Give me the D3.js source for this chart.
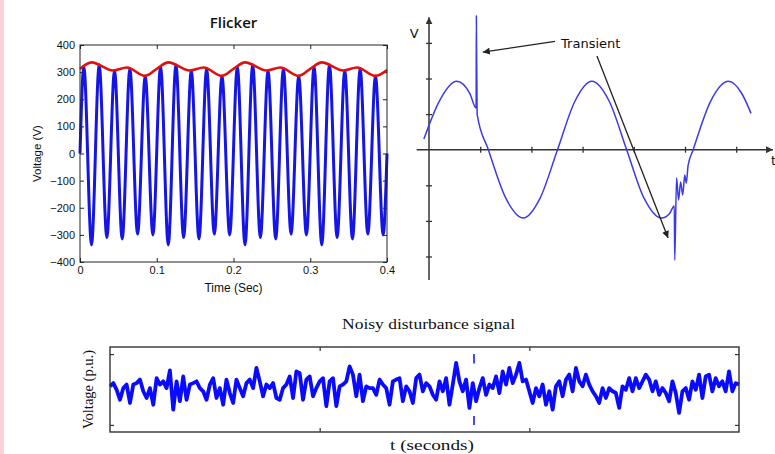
<!DOCTYPE html>
<html><head><meta charset="utf-8">
<script src="https://cdn.jsdelivr.net/npm/d3@7"></script>
<style>
body{margin:0;background:#fff;}
svg{display:block;}
</style></head><body>
<svg id="c" width="775" height="454"></svg>
<script>
// ---------------- Flicker panel data ----------------
const flickerXTicks = [0, 0.1, 0.2, 0.3, 0.4];
const flickerYTicks = [-400, -300, -200, -100, 0, 100, 200, 300, 400];
const waveTime = [0, 0.005, 0.015, 0.025, 0.035, 0.045, 0.055, 0.065, 0.075, 0.085, 0.095,
  0.105, 0.115, 0.125, 0.135, 0.145, 0.155, 0.165, 0.175, 0.185, 0.195,
  0.205, 0.215, 0.225, 0.235, 0.245, 0.255, 0.265, 0.275, 0.285, 0.295,
  0.305, 0.315, 0.325, 0.335, 0.345, 0.355, 0.365, 0.375, 0.385, 0.395, 0.4];
const waveVolt = [0, 320, -337, 327, -310, 306, -315, 312, -297, 286, -300,
  320, -337, 327, -310, 306, -315, 312, -297, 286, -300,
  320, -337, 327, -310, 306, -315, 312, -297, 286, -300,
  320, -337, 327, -310, 306, -315, 312, -297, 286, -300, 0];
const envTime = [0, 0.015, 0.043, 0.061, 0.085, 0.1, 0.115, 0.143, 0.161, 0.185,
  0.2, 0.215, 0.243, 0.261, 0.285, 0.3, 0.315, 0.343, 0.361, 0.385, 0.4];
const envVolt = [312, 336, 306, 317, 286, 312, 336, 306, 317, 286,
  312, 336, 306, 317, 286, 312, 336, 306, 317, 286, 308];

// ---------------- Transient panel data ----------------
const transXTicks = [1, 2, 3, 4, 5, 6];
const transYTicks = [-3, -2, -1, 1, 2, 3];
const transTime = [-0.10, 0.20, 0.54, 0.80, 0.92, 0.925, 0.94, 1.16, 1.50, 1.84, 2.17, 2.51,
  2.85, 3.18, 3.52, 3.86, 4.20, 4.54, 4.70, 4.79, 4.80, 4.835, 4.875, 4.915, 4.955, 4.995,
  5.025, 5.06, 5.16, 5.50, 5.85, 6.10, 6.29];
const transVolt = [0.30, 1.36, 1.92, 1.57, 1.17, 3.76, 1.00, 0, -1.36, -1.92, -1.36, 0,
  1.36, 1.92, 1.36, 0, -1.36, -1.92, -1.79, -1.58, -3.10, -0.79, -1.41, -0.91, -1.27, -0.71,
  -0.94, -0.45, 0, 1.36, 1.92, 1.60, 1.02];
const arrowFrom = [[2.46, 3.04], [3.28, 2.63]];
const arrowTo = [[1.05, 2.74], [4.67, -2.48]];
const transientLabel = {text: "Transient", t: 2.58, v: 2.86};

// ---------------- Noisy panel data ----------------
const noiseXTicks = [1, 2];
const noiseYTicks = [-1, 1];
const disturbanceTime = 1.736;
const noiseVolt = [
  0.09,0.18,-0.01,-0.29,0.04,0.14,-0.38,0.14,0.18,0.28,
  -0.05,-0.24,0.04,-0.43,0.32,0.14,0.23,0.04,0.54,-0.57,
  0.23,-0.33,0.37,-0.29,0.14,0.18,0.23,0.04,-0.05,-0.29,
  0.14,0.32,-0.24,0.04,-0.43,0.28,-0.10,-0.38,0.28,0.04,
  -0.19,0.18,0.28,0.04,0.61,0.23,-0.19,0.14,0.04,
  0.18,-0.24,-0.29,0.04,0.14,0.37,-0.24,0.51,0.46,-0.29,
  0.28,0.37,-0.19,0.04,0.23,0.32,-0.47,0.23,0.32,-0.47,
  0.09,0.14,0.23,0.65,0.42,-0.19,0.42,-0.33,0.09,0.04,
  0.04,-0.15,0.28,0.14,0.04,-0.43,0.23,0.28,0.32,-0.33,
  0.09,-0.05,-0.38,0.32,0.42,-0.05,0.18,0.09,
  -0.15,-0.29,0.23,-0.05,0.32,-0.43,0.14,0.75,0.23,-0.05,
  0.28,-0.52,0.18,-0.33,0.04,0.32,-0.15,0.14,0.04,0.37,
  -0.10,0.51,0.14,0.61,0.18,0.42,0.75,0.23,0.28,-0.05,
  -0.38,0.04,-0.19,0.14,-0.43,-0.05,-0.57,0.09,0.23,-0.19,
  0.28,0.42,-0.05,0.61,0.23,0.09,0.42,0.14,
  -0.05,-0.19,-0.38,0.04,-0.24,0.04,-0.05,-0.10,-0.52,0.09,
  -0.01,0.32,-0.05,0.32,0.04,0.23,0.42,0.28,-0.05,0.23,
  -0.15,0.04,-0.10,-0.33,0.23,-0.10,-0.66,-0.05,0.04,-0.29,
  0.23,-0.01,0.42,-0.24,0.37,0.42,-0.05,0.32,0.09,0.23,
  -0.05,0.51,-0.05,0.18,0.14];
const noiseDuration = 3;

// ---------------- Drawing ----------------
const svg = d3.select("#c");
const ink = "#222";
const sans = "'Liberation Sans', Arial, sans-serif";
const serif = "'Liberation Serif', 'Times New Roman', serif";

svg.append("rect").attr("x", 0).attr("y", 0).attr("width", 4).attr("height", 454).attr("fill", "#ffd0d5");

// ===== Flicker =====
{
  const x = d3.scaleLinear([0, 0.4], [80, 387]);
  const y = d3.scaleLinear([-400, 400], [262, 45]);
  const g = svg.append("g");
  const styleAxis = sel => {
    sel.select(".domain").remove();
    sel.selectAll(".tick line").attr("stroke", ink);
    sel.selectAll("text").attr("font-family", sans).attr("font-size", 11).attr("fill", "#111");
  };
  g.append("g").attr("transform", `translate(${x(0)},0)`)
    .call(d3.axisLeft(y).tickValues(flickerYTicks).tickSize(-4).tickPadding(5).tickFormat(d3.format("d")))
    .call(styleAxis);
  g.append("g").attr("transform", `translate(${x(0.4)},0)`)
    .call(d3.axisRight(y).tickValues(flickerYTicks).tickSize(-4).tickFormat(""))
    .call(styleAxis);
  g.append("g").attr("transform", `translate(0,${y(-400)})`)
    .call(d3.axisBottom(x).tickValues(flickerXTicks).tickSize(-4).tickPadding(4).tickFormat(d => d === 0 ? "0" : d3.format(".1f")(d)))
    .call(styleAxis);
  g.append("g").attr("transform", `translate(0,${y(400)})`)
    .call(d3.axisTop(x).tickValues(flickerXTicks).tickSize(-4).tickFormat(""))
    .call(styleAxis);

  const wave = waveTime.map((t, i) => [t, waveVolt[i]]);
  const env = envTime.map((t, i) => [t, envVolt[i]]);
  const line = d3.line().x(d => x(d[0])).y(d => y(d[1])).curve(d3.curveMonotoneX);
  g.append("path").attr("d", line(wave)).attr("fill", "none")
    .attr("stroke", "#1515e6").attr("stroke-width", 3).attr("stroke-linejoin", "round");
  g.append("path").attr("d", line(env)).attr("fill", "none")
    .attr("stroke", "#e01010").attr("stroke-width", 2.6);

  g.append("rect").attr("x", x(0)).attr("y", y(400)).attr("width", x(0.4) - x(0)).attr("height", y(-400) - y(400))
    .attr("fill", "none").attr("stroke", ink).attr("stroke-width", 1);

  g.append("text").attr("x", (x(0) + x(0.4)) / 2).attr("y", 28).attr("text-anchor", "middle")
    .attr("font-family", "'Open Sans', sans-serif").attr("font-weight", 600).attr("font-size", 15).attr("fill", "#111").text("Flicker");
  g.append("text").attr("x", (x(0) + x(0.4)) / 2).attr("y", 292).attr("text-anchor", "middle")
    .attr("font-family", sans).attr("font-size", 12).attr("fill", "#111").text("Time (Sec)");
  g.append("text").attr("transform", `translate(41,${y(0)}) rotate(-90)`).attr("text-anchor", "middle")
    .attr("font-family", sans).attr("font-size", 11.5).attr("fill", "#111").text("Voltage (V)");
}

// ===== Transient =====
{
  const x = d3.scaleLinear([0, 6], [429, 736.2]);
  const y = d3.scaleLinear([0, 3], [149.7, 42.9]);
  const g = svg.append("g");
  const defs = svg.append("defs");
  defs.append("marker").attr("id", "axArrow").attr("viewBox", "0 0 10 10").attr("refX", 10).attr("refY", 5)
    .attr("markerWidth", 7).attr("markerHeight", 7).attr("markerUnits", "userSpaceOnUse").attr("orient", "auto")
    .append("path").attr("d", "M0,0 L10,5 L0,10 Z").attr("fill", "#333");
  defs.append("marker").attr("id", "annArrow").attr("viewBox", "0 0 10 10").attr("refX", 10).attr("refY", 5)
    .attr("markerWidth", 9).attr("markerHeight", 7).attr("markerUnits", "userSpaceOnUse").attr("orient", "auto")
    .append("path").attr("d", "M0,0 L10,5 L0,10 Z").attr("fill", "#222");

  g.append("line").attr("x1", x(-0.24)).attr("x2", x(6.72)).attr("y1", y(0)).attr("y2", y(0))
    .attr("stroke", "#333").attr("stroke-width", 1.5).attr("marker-end", "url(#axArrow)");
  g.append("line").attr("x1", x(0)).attr("x2", x(0)).attr("y1", y(-3.66)).attr("y2", y(3.72))
    .attr("stroke", "#333").attr("stroke-width", 1.5).attr("marker-end", "url(#axArrow)");
  const tickStyle = sel => { sel.select(".domain").remove(); sel.selectAll(".tick line").attr("stroke", "#333").attr("stroke-width", 1.3); };
  g.append("g").attr("transform", `translate(${x(0) + 3},0)`)
    .call(d3.axisLeft(y).tickValues(transYTicks).tickSize(6).tickFormat("")).call(tickStyle);
  g.append("g").attr("transform", `translate(0,${y(0) - 3})`)
    .call(d3.axisBottom(x).tickValues(transXTicks).tickSize(6).tickFormat("")).call(tickStyle);

  const pts = transTime.map((t, i) => [t, transVolt[i]]);
  g.append("path").attr("d", d3.line().x(d => x(d[0])).y(d => y(d[1])).curve(d3.curveMonotoneX)(pts))
    .attr("fill", "none").attr("stroke", "#3b3be6").attr("stroke-width", 1.5).attr("stroke-linejoin", "round");

  arrowFrom.forEach((f, i) => {
    g.append("line").attr("x1", x(f[0])).attr("y1", y(f[1])).attr("x2", x(arrowTo[i][0])).attr("y2", y(arrowTo[i][1]))
      .attr("stroke", "#222").attr("stroke-width", 1.3).attr("marker-end", "url(#annArrow)");
  });
  g.append("text").attr("x", x(transientLabel.t)).attr("y", y(transientLabel.v))
    .attr("font-family", "'DejaVu Sans', sans-serif").attr("font-size", 13).attr("fill", "#111").text(transientLabel.text);
  g.append("text").attr("x", x(-0.29)).attr("y", y(3.14)).attr("text-anchor", "middle")
    .attr("font-family", "'DejaVu Sans', sans-serif").attr("font-size", 13).attr("fill", "#111").text("V");
  g.append("text").attr("x", x(6.68)).attr("y", y(-0.42))
    .attr("font-family", "'DejaVu Sans', sans-serif").attr("font-size", 13).attr("fill", "#111").text("t");
}

// ===== Noisy disturbance =====
{
  const x = d3.scaleLinear([0, noiseDuration], [110, 739]);
  const y = d3.scaleLinear([-1.2, 1.2], [432, 347]);
  const g = svg.append("g");
  const st = sel => { sel.select(".domain").remove(); sel.selectAll(".tick line").attr("stroke", "#333").attr("stroke-width", 1.2); };
  g.append("g").attr("transform", `translate(${x(0)},0)`).call(d3.axisLeft(y).tickValues(noiseYTicks).tickSize(-4).tickFormat("")).call(st);
  g.append("g").attr("transform", `translate(${x(noiseDuration)},0)`).call(d3.axisRight(y).tickValues(noiseYTicks).tickSize(-4).tickFormat("")).call(st);
  g.append("g").attr("transform", `translate(0,${y(-1.2)})`).call(d3.axisBottom(x).tickValues(noiseXTicks).tickSize(-4).tickFormat("")).call(st);
  g.append("g").attr("transform", `translate(0,${y(1.2)})`).call(d3.axisTop(x).tickValues(noiseXTicks).tickSize(-4).tickFormat("")).call(st);

  g.append("line").attr("x1", x(disturbanceTime)).attr("x2", x(disturbanceTime)).attr("y1", y(1)).attr("y2", y(-1))
    .attr("stroke", "#1a1aff").attr("stroke-width", 1.6).attr("stroke-dasharray", "9.5,21.5");

  const n = noiseVolt.length;
  const pts = noiseVolt.map((v, i) => [i * noiseDuration / (n - 1), v]);
  g.append("path").attr("d", d3.line().x(d => x(d[0])).y(d => y(d[1]))(pts))
    .attr("fill", "none").attr("stroke", "#0a0aff").attr("stroke-width", 3.8).attr("stroke-linejoin", "round");

  g.append("rect").attr("x", x(0)).attr("y", y(1.2)).attr("width", x(noiseDuration) - x(0)).attr("height", y(-1.2) - y(1.2))
    .attr("fill", "none").attr("stroke", "#333").attr("stroke-width", 1.4);

  g.append("text").attr("x", 428.5).attr("y", 329).attr("text-anchor", "middle")
    .attr("font-family", serif).attr("font-size", 14).attr("fill", "#111")
    .attr("textLength", 173).attr("lengthAdjust", "spacingAndGlyphs").text("Noisy disturbance signal");
  g.append("text").attr("x", 432).attr("y", 450).attr("text-anchor", "middle")
    .attr("font-family", serif).attr("font-size", 14.5).attr("fill", "#111")
    .attr("textLength", 84).attr("lengthAdjust", "spacingAndGlyphs").text("t (seconds)");
  g.append("text").attr("transform", `translate(93,${y(0)}) rotate(-90)`).attr("text-anchor", "middle")
    .attr("font-family", serif).attr("font-size", 14.5).attr("fill", "#111").text("Voltage (p.u.)");
}
</script>
</body></html>
